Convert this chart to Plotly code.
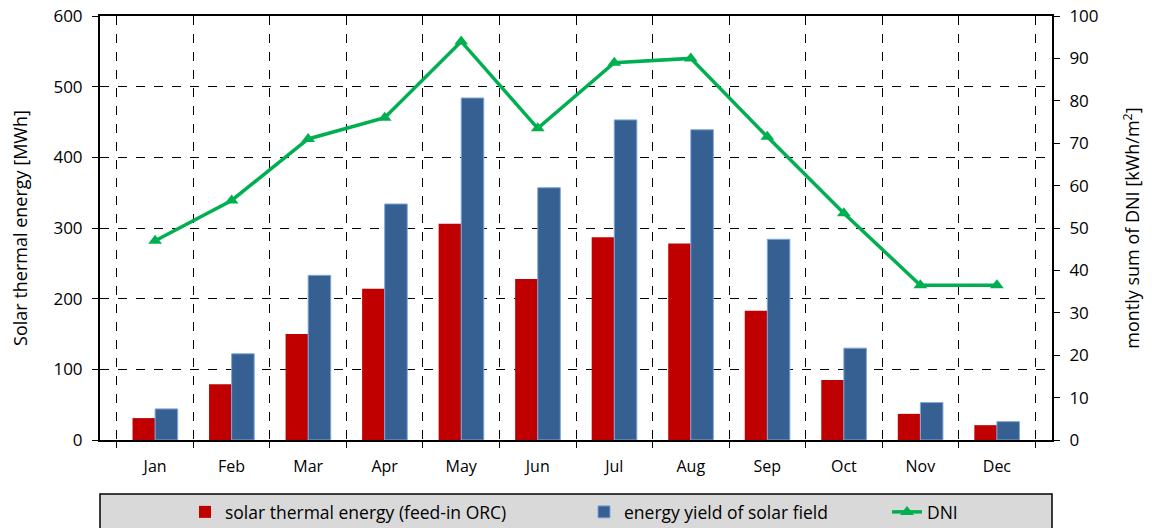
import plotly.graph_objects as go

months = ["Jan", "Feb", "Mar", "Apr", "May", "Jun", "Jul", "Aug", "Sep", "Oct", "Nov", "Dec"]
solar_thermal = [31, 79, 150, 214, 306, 228, 287, 278, 183, 85, 37, 21]
energy_yield = [44, 122, 233, 334, 484, 357, 453, 439, 284, 130, 53, 26]
dni = [47, 56.5, 71, 76, 94, 73.5, 89, 90, 71.5, 53.5, 36.5, 36.5]

FONT = "Open Sans"
OFF = 8  # page body margin
W, H = 1152, 528
L, T = 100 - OFF, 16 - OFF
R = W - (1052 - OFF)
B = H - (440 - OFF)
pw = W - L - R
ph = H - T - B

def cx(x):
    return (x - OFF) / W

def cy(y):
    return (H - (y - OFF)) / H

def py(y):
    return (H - B - (y - OFF)) / ph

fig = go.Figure()
fig.add_trace(go.Bar(
    x=months, y=solar_thermal, name="solar thermal energy (feed-in ORC)",
    marker=dict(color="#c00000", line=dict(width=0)), legend="legend",
))
fig.add_trace(go.Bar(
    x=months, y=energy_yield, name="energy yield of solar field",
    marker=dict(color="#376092", line=dict(color="#7fa7dc", width=1)), legend="legend2",
))
fig.add_trace(go.Scatter(
    x=months, y=dni, name="DNI", yaxis="y2", mode="lines+markers",
    line=dict(color="#00b050", width=3.5),
    marker=dict(symbol="triangle-up", size=12, color="#00b050"),
    legend="legend3",
))

def leg(x):
    return dict(orientation="h", yanchor="middle", xanchor="left",
                xref="container", yref="container", x=cx(x), y=cy(512),
                bgcolor="rgba(0,0,0,0)", borderwidth=0, visible=True,
                font=dict(family=FONT, size=17.5, color="#000"))

fig.update_layout(
    width=W, height=H, showlegend=True,
    margin=dict(l=L, r=R, t=T, b=B, autoexpand=False),
    paper_bgcolor="white", plot_bgcolor="white",
    barmode="group", bargap=0.41, bargroupgap=0,
    font=dict(family=FONT, size=17, color="#000"),
    xaxis=dict(
        type="category", tickson="boundaries", showgrid=True,
        gridcolor="#000", griddash="dash", gridwidth=1,
        showline=True, linecolor="#000", linewidth=2, mirror=True,
        ticks="outside", ticklen=6, tickcolor="#000",
        tickfont=dict(family=FONT, size=16), ticklabelstandoff=11,
        automargin=False, ticklabeloverflow="allow",
    ),
    yaxis=dict(
        range=[0, 600], dtick=100, showgrid=True,
        gridcolor="#000", griddash="dash", gridwidth=1,
        showline=True, linecolor="#000", linewidth=2,
        ticks="outside", ticklen=6, tickcolor="#000",
        tickfont=dict(family=FONT, size=17), ticklabelstandoff=6,
        title=dict(text="Solar thermal energy [MWh]", font=dict(family=FONT, size=18), standoff=22),
        zeroline=False, automargin=False, ticklabeloverflow="allow",
    ),
    yaxis2=dict(
        range=[0, 100], dtick=10, overlaying="y", side="right", showgrid=False,
        showline=True, linecolor="#000", linewidth=2,
        ticks="outside", ticklen=6, tickcolor="#000",
        tickfont=dict(family=FONT, size=17), ticklabelstandoff=6,
        title=dict(text="montly sum of DNI [kWh/m<sup>2</sup>]", font=dict(family=FONT, size=18), standoff=29),
        zeroline=False, automargin=False, ticklabeloverflow="allow",
    ),
    legend=leg(185),
    legend2=leg(584),
    legend3=leg(887),
    shapes=[dict(type="rect", xref="paper", yref="paper",
                 x0=0, x1=1, y0=py(494), y1=py(545),
                 fillcolor="#d9d9d9", line=dict(color="#000", width=1.5), layer="below")],
)

fig.write_html("out.html")
